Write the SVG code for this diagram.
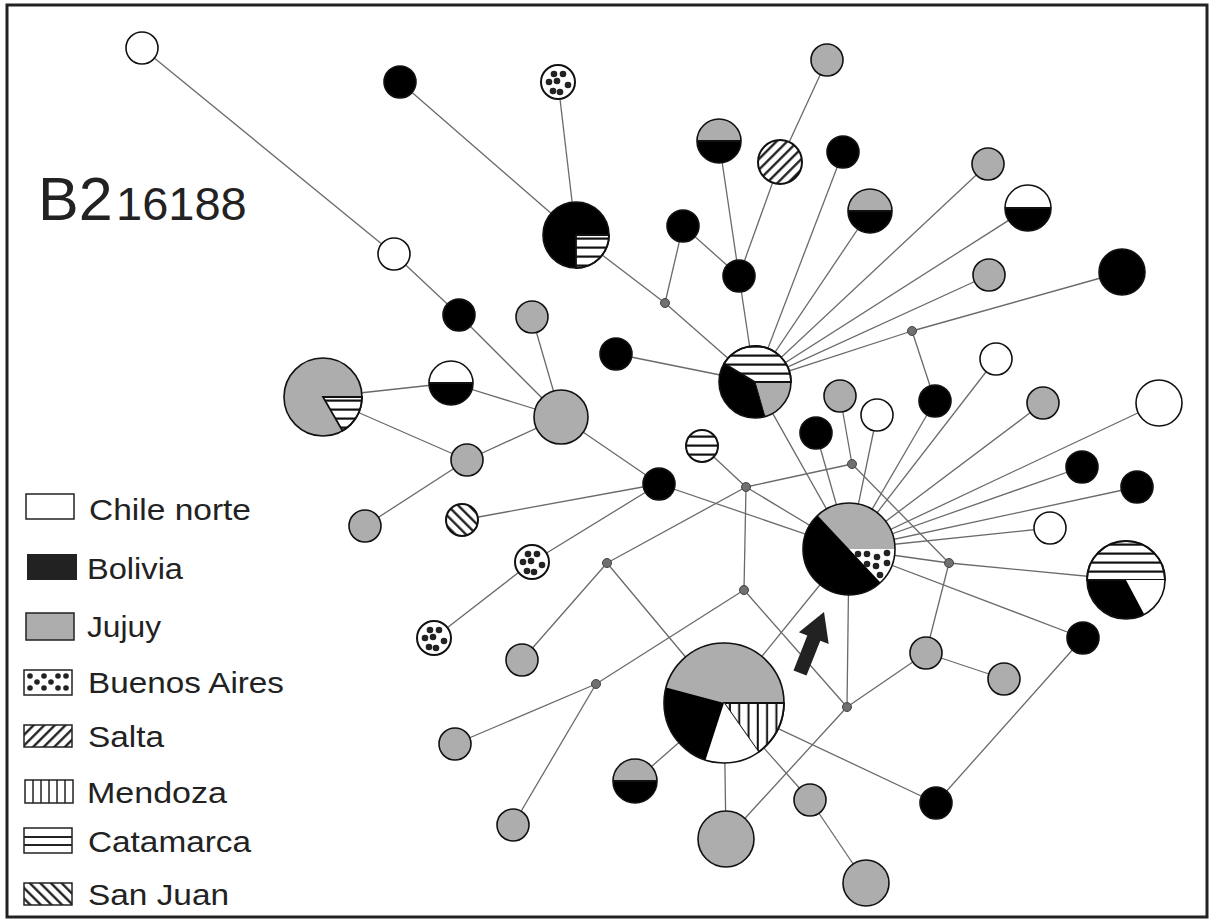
<svg xmlns="http://www.w3.org/2000/svg" width="1211" height="919" viewBox="0 0 1211 919">
<style>
.e{stroke:#6a6a6a;stroke-width:1.3;fill:none}
.o{stroke:#111;stroke-width:1.6;fill:none}
.po{stroke:#111;stroke-width:2;fill:none}
.g{fill:#adadad}
.b{fill:#000}
.w{fill:#fff}
.j{fill:#707070;stroke:#444;stroke-width:1}
.t{font-family:"Liberation Sans",Arial,sans-serif;fill:#222}
.wl{stroke:#111;stroke-width:1.8}
.dot{fill:#222}
</style>
<defs>
<pattern id="pCat" patternUnits="userSpaceOnUse" width="10" height="9"><rect width="10" height="9" fill="#fff"/><rect y="3.5" width="10" height="2.2" fill="#111"/></pattern>
<pattern id="pMen" patternUnits="userSpaceOnUse" width="9.3" height="10"><rect width="9.3" height="10" fill="#fff"/><rect x="3.5" width="2" height="10" fill="#111"/></pattern>
<pattern id="pSal" patternUnits="userSpaceOnUse" width="7.5" height="8" patternTransform="rotate(45)"><rect width="7.5" height="8" fill="#fff"/><rect x="3" width="2.2" height="8" fill="#111"/></pattern>
<pattern id="pSJ" patternUnits="userSpaceOnUse" width="7.5" height="8" patternTransform="rotate(-45)"><rect width="7.5" height="8" fill="#fff"/><rect x="3" width="2.2" height="8" fill="#111"/></pattern>
<g id="badots" class="dot"><circle cx="-4" cy="-8" r="3.3"/><circle cx="5" cy="-8" r="3.3"/><circle cx="-9" cy="0" r="3.3"/><circle cx="-1" cy="-1" r="3.3"/><circle cx="10" cy="3" r="3.3"/><circle cx="-5" cy="9" r="3.3"/><circle cx="2" cy="10" r="3.3"/></g>
</defs>
<rect x="0" y="0" width="1211" height="919" fill="#fff"/>
<rect x="7" y="5" width="1200" height="912" fill="none" stroke="#222" stroke-width="3"/>

<g id="title" class="t"><text x="38" y="220" font-size="61">B2</text><text x="116" y="220" font-size="47">16188</text></g>

<g id="connectors" class="e">
<line x1="142" y1="48" x2="394" y2="254"/>
<line x1="394" y1="254" x2="459" y2="315"/>
<line x1="459" y1="315" x2="561" y2="417"/>
<line x1="532" y1="317" x2="561" y2="417"/>
<line x1="451" y1="383" x2="561" y2="417"/>
<line x1="323" y1="397" x2="451" y2="383"/>
<line x1="323" y1="397" x2="467" y2="460"/>
<line x1="467" y1="460" x2="561" y2="417"/>
<line x1="467" y1="460" x2="365" y2="526"/>
<line x1="561" y1="417" x2="659" y2="484"/>
<line x1="659" y1="484" x2="462" y2="520"/>
<line x1="659" y1="484" x2="532" y2="562"/>
<line x1="659" y1="484" x2="849" y2="549"/>
<line x1="532" y1="562" x2="434" y2="638"/>
<line x1="522" y1="660" x2="607" y2="563"/>
<line x1="607" y1="563" x2="724" y2="703"/>
<line x1="607" y1="563" x2="746" y2="487"/>
<line x1="746" y1="487" x2="702" y2="446"/>
<line x1="746" y1="487" x2="744" y2="590"/>
<line x1="746" y1="487" x2="852" y2="464"/>
<line x1="746" y1="487" x2="849" y2="549"/>
<line x1="744" y1="590" x2="596" y2="684"/>
<line x1="744" y1="590" x2="847" y2="707"/>
<line x1="596" y1="684" x2="455" y2="744"/>
<line x1="596" y1="684" x2="513" y2="825"/>
<line x1="724" y1="703" x2="635" y2="781"/>
<line x1="724" y1="703" x2="726" y2="839"/>
<line x1="724" y1="703" x2="810" y2="800"/>
<line x1="810" y1="800" x2="866" y2="883"/>
<line x1="724" y1="703" x2="936" y2="803"/>
<line x1="724" y1="703" x2="849" y2="549"/>
<line x1="726" y1="839" x2="847" y2="707"/>
<line x1="847" y1="707" x2="849" y2="549"/>
<line x1="847" y1="707" x2="926" y2="653"/>
<line x1="926" y1="653" x2="1004" y2="679"/>
<line x1="926" y1="653" x2="949" y2="563"/>
<line x1="949" y1="563" x2="849" y2="549"/>
<line x1="949" y1="563" x2="1126" y2="580"/>
<line x1="852" y1="464" x2="949" y2="563"/>
<line x1="852" y1="464" x2="840" y2="396"/>
<line x1="849" y1="549" x2="816" y2="433"/>
<line x1="849" y1="549" x2="877" y2="415"/>
<line x1="849" y1="549" x2="755" y2="382"/>
<line x1="849" y1="549" x2="935" y2="401"/>
<line x1="849" y1="549" x2="996" y2="359"/>
<line x1="849" y1="549" x2="1043" y2="403"/>
<line x1="849" y1="549" x2="1159" y2="403"/>
<line x1="849" y1="549" x2="1082" y2="467"/>
<line x1="849" y1="549" x2="1137" y2="487"/>
<line x1="849" y1="549" x2="1050" y2="528"/>
<line x1="849" y1="549" x2="1083" y2="638"/>
<line x1="1083" y1="638" x2="936" y2="803"/>
<line x1="935" y1="401" x2="912" y2="331"/>
<line x1="912" y1="331" x2="1122" y2="272"/>
<line x1="912" y1="331" x2="755" y2="382"/>
<line x1="755" y1="382" x2="989" y2="275"/>
<line x1="755" y1="382" x2="1028" y2="208"/>
<line x1="755" y1="382" x2="988" y2="164"/>
<line x1="755" y1="382" x2="870" y2="211"/>
<line x1="755" y1="382" x2="843" y2="152"/>
<line x1="755" y1="382" x2="739" y2="276"/>
<line x1="755" y1="382" x2="616" y2="354"/>
<line x1="755" y1="382" x2="665" y2="303"/>
<line x1="665" y1="303" x2="576" y2="235"/>
<line x1="665" y1="303" x2="683" y2="226"/>
<line x1="683" y1="226" x2="739" y2="276"/>
<line x1="719" y1="141" x2="739" y2="276"/>
<line x1="780" y1="162" x2="739" y2="276"/>
<line x1="827" y1="60" x2="780" y2="162"/>
<line x1="576" y1="235" x2="400" y2="82"/>
<line x1="576" y1="235" x2="558" y2="82"/>
</g>

<g id="n_w1"><circle cx="142" cy="48" r="16" class="w"/><circle cx="142" cy="48" r="16" class="o"/></g>
<g id="n_b1"><circle cx="400" cy="82" r="16" class="b"/><circle cx="400" cy="82" r="16" class="o"/></g>
<g id="n_ba1"><circle cx="558" cy="82" r="17" class="w"/><use href="#badots" x="558" y="82"/><circle cx="558" cy="82" r="17" class="po"/></g>
<g id="n_bbpie"><circle cx="576" cy="235" r="33" class="b"/><path d="M576,235 L609,235 A33,33 0 0 1 576,268 Z" fill="url(#pCat)" class="wl"/><circle cx="576" cy="235" r="33" class="o"/></g>
<g id="n_w2"><circle cx="394" cy="254" r="16" class="w"/><circle cx="394" cy="254" r="16" class="o"/></g>
<g id="n_b2"><circle cx="459" cy="315" r="16" class="b"/><circle cx="459" cy="315" r="16" class="o"/></g>
<g id="n_g1"><circle cx="532" cy="317" r="16" class="g"/><circle cx="532" cy="317" r="16" class="o"/></g>
<g id="n_pieL"><circle cx="323" cy="397" r="39" class="g"/><path d="M323,397 L362,397 A39,39 0 0 1 342.5,430.8 Z" fill="url(#pCat)" class="wl"/><circle cx="323" cy="397" r="39" class="o"/></g>
<g id="n_hwb1"><circle cx="451" cy="383" r="22" class="b"/><path d="M429,383 A22,22 0 0 1 473,383 Z" class="w"/><line x1="429" y1="383" x2="473" y2="383" class="wl"/><circle cx="451" cy="383" r="22" class="o"/></g>
<g id="n_gbig"><circle cx="561" cy="417" r="27" class="g"/><circle cx="561" cy="417" r="27" class="o"/></g>
<g id="n_g2"><circle cx="467" cy="460" r="16" class="g"/><circle cx="467" cy="460" r="16" class="o"/></g>
<g id="n_g3"><circle cx="365" cy="526" r="16" class="g"/><circle cx="365" cy="526" r="16" class="o"/></g>
<g id="n_sj"><circle cx="462" cy="520" r="16" fill="url(#pSJ)"/><circle cx="462" cy="520" r="16" class="po"/></g>
<g id="n_b3"><circle cx="659" cy="484" r="16" class="b"/><circle cx="659" cy="484" r="16" class="o"/></g>
<g id="n_ba2"><circle cx="532" cy="562" r="17" class="w"/><use href="#badots" x="532" y="562"/><circle cx="532" cy="562" r="17" class="po"/></g>
<g id="n_ba3"><circle cx="434" cy="638" r="17" class="w"/><use href="#badots" x="434" y="638"/><circle cx="434" cy="638" r="17" class="po"/></g>
<g id="n_g4"><circle cx="522" cy="660" r="16" class="g"/><circle cx="522" cy="660" r="16" class="o"/></g>
<g id="n_g5"><circle cx="455" cy="744" r="16" class="g"/><circle cx="455" cy="744" r="16" class="o"/></g>
<g id="n_g6"><circle cx="513" cy="825" r="16" class="g"/><circle cx="513" cy="825" r="16" class="o"/></g>
<g id="n_b4"><circle cx="616" cy="354" r="16" class="b"/><circle cx="616" cy="354" r="16" class="o"/></g>
<g id="n_cat1"><circle cx="702" cy="446" r="16" fill="url(#pCat)"/><circle cx="702" cy="446" r="16" class="po"/></g>
<g id="n_b5"><circle cx="683" cy="226" r="16" class="b"/><circle cx="683" cy="226" r="16" class="o"/></g>
<g id="n_b6"><circle cx="739" cy="276" r="16" class="b"/><circle cx="739" cy="276" r="16" class="o"/></g>
<g id="n_hgb1"><circle cx="719" cy="141" r="22" class="b"/><path d="M697,141 A22,22 0 0 1 741,141 Z" class="g"/><line x1="697" y1="141" x2="741" y2="141" class="wl"/><circle cx="719" cy="141" r="22" class="o"/></g>
<g id="n_sal"><circle cx="780" cy="162" r="22" fill="url(#pSal)"/><circle cx="780" cy="162" r="22" class="po"/></g>
<g id="n_g7"><circle cx="827" cy="60" r="16" class="g"/><circle cx="827" cy="60" r="16" class="o"/></g>
<g id="n_b7"><circle cx="843" cy="152" r="16" class="b"/><circle cx="843" cy="152" r="16" class="o"/></g>
<g id="n_hgb2"><circle cx="870" cy="211" r="22" class="b"/><path d="M848,211 A22,22 0 0 1 892,211 Z" class="g"/><line x1="848" y1="211" x2="892" y2="211" class="wl"/><circle cx="870" cy="211" r="22" class="o"/></g>
<g id="n_g8"><circle cx="988" cy="164" r="16" class="g"/><circle cx="988" cy="164" r="16" class="o"/></g>
<g id="n_hwb2"><circle cx="1028" cy="208" r="23" class="b"/><path d="M1005,208 A23,23 0 0 1 1051,208 Z" class="w"/><line x1="1005" y1="208" x2="1051" y2="208" class="wl"/><circle cx="1028" cy="208" r="23" class="o"/></g>
<g id="n_g9"><circle cx="989" cy="275" r="16" class="g"/><circle cx="989" cy="275" r="16" class="o"/></g>
<g id="n_b8"><circle cx="1122" cy="272" r="23" class="b"/><circle cx="1122" cy="272" r="23" class="o"/></g>
<g id="n_catpie"><circle cx="755" cy="382" r="36" class="b"/><path d="M755,382 L791,382 A36,36 0 0 1 764.9,416.6 Z" class="g"/><path d="M755,382 L724.1,363.5 A36,36 0 0 1 791,382 Z" fill="url(#pCat)" class="wl"/><line x1="755" y1="382" x2="764.9" y2="416.6" stroke="#111" stroke-width="1"/><circle cx="755" cy="382" r="36" class="o"/></g>
<g id="n_b9"><circle cx="816" cy="433" r="16" class="b"/><circle cx="816" cy="433" r="16" class="o"/></g>
<g id="n_g10"><circle cx="840" cy="396" r="16" class="g"/><circle cx="840" cy="396" r="16" class="o"/></g>
<g id="n_w3"><circle cx="877" cy="415" r="16" class="w"/><circle cx="877" cy="415" r="16" class="o"/></g>
<g id="n_b10"><circle cx="935" cy="401" r="16" class="b"/><circle cx="935" cy="401" r="16" class="o"/></g>
<g id="n_w4"><circle cx="996" cy="359" r="16" class="w"/><circle cx="996" cy="359" r="16" class="o"/></g>
<g id="n_g11"><circle cx="1043" cy="403" r="16" class="g"/><circle cx="1043" cy="403" r="16" class="o"/></g>
<g id="n_w5"><circle cx="1159" cy="403" r="23" class="w"/><circle cx="1159" cy="403" r="23" class="o"/></g>
<g id="n_b11"><circle cx="1082" cy="467" r="16" class="b"/><circle cx="1082" cy="467" r="16" class="o"/></g>
<g id="n_b12"><circle cx="1137" cy="487" r="16" class="b"/><circle cx="1137" cy="487" r="16" class="o"/></g>
<g id="n_w6"><circle cx="1050" cy="528" r="16" class="w"/><circle cx="1050" cy="528" r="16" class="o"/></g>
<g id="n_pieR"><circle cx="1126" cy="580" r="39" class="b"/><path d="M1087,580 A39,39 0 0 1 1165,580 Z" fill="url(#pCat)" class="wl"/><path d="M1126,580 L1165,580 A39,39 0 0 1 1144.3,614.4 Z" class="w"/><circle cx="1126" cy="580" r="39" class="o"/></g>
<g id="n_hub"><circle cx="849" cy="549" r="46" class="b"/><path d="M849,549 L817.6,515.4 A46,46 0 0 1 895,549 Z" class="g"/><path d="M849,549 L895,549 A46,46 0 0 1 880.4,582.6 Z" class="w"/><g class="dot"><circle cx="858" cy="554" r="3.3"/><circle cx="867" cy="554" r="3.3"/><circle cx="877" cy="557" r="3.3"/><circle cx="887" cy="553" r="3.3"/><circle cx="867" cy="564" r="3.3"/><circle cx="876" cy="566" r="3.3"/><circle cx="887" cy="563" r="3.3"/><circle cx="880" cy="575" r="3.3"/></g><circle cx="849" cy="549" r="46" class="o"/></g>
<g id="n_b13"><circle cx="1083" cy="638" r="16" class="b"/><circle cx="1083" cy="638" r="16" class="o"/></g>
<g id="n_g12"><circle cx="926" cy="653" r="16" class="g"/><circle cx="926" cy="653" r="16" class="o"/></g>
<g id="n_g13"><circle cx="1004" cy="679" r="16" class="g"/><circle cx="1004" cy="679" r="16" class="o"/></g>
<g id="n_b14"><circle cx="936" cy="803" r="16" class="b"/><circle cx="936" cy="803" r="16" class="o"/></g>
<g id="n_g14"><circle cx="810" cy="800" r="16" class="g"/><circle cx="810" cy="800" r="16" class="o"/></g>
<g id="n_g15"><circle cx="866" cy="883" r="23" class="g"/><circle cx="866" cy="883" r="23" class="o"/></g>
<g id="n_bigpie"><circle cx="724" cy="703" r="60" class="b"/><path d="M724,703 L666,687.5 A60,60 0 0 1 784,703 Z" class="g"/><path d="M724,703 L784,703 A60,60 0 0 1 758.4,752.1 Z" fill="url(#pMen)" class="wl"/><path d="M724,703 L758.4,752.1 A60,60 0 0 1 705.5,760.1 Z" class="w"/><circle cx="724" cy="703" r="60" class="o"/></g>
<g id="n_hgb3"><circle cx="635" cy="781" r="22" class="b"/><path d="M613,781 A22,22 0 0 1 657,781 Z" class="g"/><line x1="613" y1="781" x2="657" y2="781" class="wl"/><circle cx="635" cy="781" r="22" class="o"/></g>
<g id="n_g16"><circle cx="726" cy="839" r="28" class="g"/><circle cx="726" cy="839" r="28" class="o"/></g>

<g id="junctions" class="j">
<circle cx="665" cy="303" r="4.5"/>
<circle cx="746" cy="487" r="4.5"/>
<circle cx="607" cy="563" r="4.5"/>
<circle cx="744" cy="590" r="4.5"/>
<circle cx="852" cy="464" r="4.5"/>
<circle cx="912" cy="331" r="4.5"/>
<circle cx="949" cy="563" r="4.5"/>
<circle cx="847" cy="707" r="4.5"/>
<circle cx="596" cy="684" r="4.5"/>
</g>

<g id="arrow"><polygon points="824,612 828.7,644 820.3,640.7 806.5,675.6 793.5,670.4 807.3,635.5 798.9,632.2" fill="#222"/></g>

<g id="legend">
<rect x="26" y="494" width="48" height="25" fill="#fff" stroke="#222" stroke-width="1.5"/>
<text class="t" x="89" y="520" font-size="29" textLength="162" lengthAdjust="spacingAndGlyphs">Chile norte</text>
<rect x="27" y="554" width="50" height="26" fill="#222"/>
<text class="t" x="87" y="579" font-size="29" textLength="96" lengthAdjust="spacingAndGlyphs">Bolivia</text>
<rect x="26" y="613" width="48" height="27" fill="#adadad" stroke="#222" stroke-width="1.5"/>
<text class="t" x="87" y="637" font-size="29" textLength="74" lengthAdjust="spacingAndGlyphs">Jujuy</text>
<rect x="24" y="670" width="48" height="25" fill="#fff" stroke="#222" stroke-width="1.5"/>
<g class="dot"><circle cx="30" cy="676" r="2.8"/><circle cx="30" cy="688" r="2.8"/><circle cx="37" cy="682" r="2.8"/><circle cx="44" cy="676" r="2.8"/><circle cx="44" cy="688" r="2.8"/><circle cx="51" cy="682" r="2.8"/><circle cx="58" cy="676" r="2.8"/><circle cx="58" cy="688" r="2.8"/><circle cx="66" cy="676" r="2.8"/><circle cx="66" cy="688" r="2.8"/></g>
<text class="t" x="88" y="693" font-size="29" textLength="196" lengthAdjust="spacingAndGlyphs">Buenos Aires</text>
<rect x="24" y="725" width="48" height="22" fill="url(#pSal)" stroke="#222" stroke-width="1.5"/>
<text class="t" x="88" y="747" font-size="29" textLength="76" lengthAdjust="spacingAndGlyphs">Salta</text>
<rect x="25" y="780" width="48" height="23" fill="#fff" stroke="#222" stroke-width="1.5"/>
<g stroke="#222" stroke-width="1.5"><line x1="33" y1="780" x2="33" y2="803"/><line x1="41" y1="780" x2="41" y2="803"/><line x1="49" y1="780" x2="49" y2="803"/><line x1="57" y1="780" x2="57" y2="803"/><line x1="65" y1="780" x2="65" y2="803"/></g>
<text class="t" x="87" y="803" font-size="29" textLength="140" lengthAdjust="spacingAndGlyphs">Mendoza</text>
<rect x="24" y="828" width="48" height="25" fill="#fff" stroke="#222" stroke-width="1.5"/>
<g stroke="#222" stroke-width="2"><line x1="24" y1="837" x2="72" y2="837"/><line x1="24" y1="845" x2="72" y2="845"/></g>
<text class="t" x="88" y="852" font-size="29" textLength="163" lengthAdjust="spacingAndGlyphs">Catamarca</text>
<rect x="24" y="883" width="48" height="22" fill="url(#pSJ)" stroke="#222" stroke-width="1.5"/>
<text class="t" x="88" y="905" font-size="29" textLength="141" lengthAdjust="spacingAndGlyphs">San Juan</text>
</g>
</svg>
